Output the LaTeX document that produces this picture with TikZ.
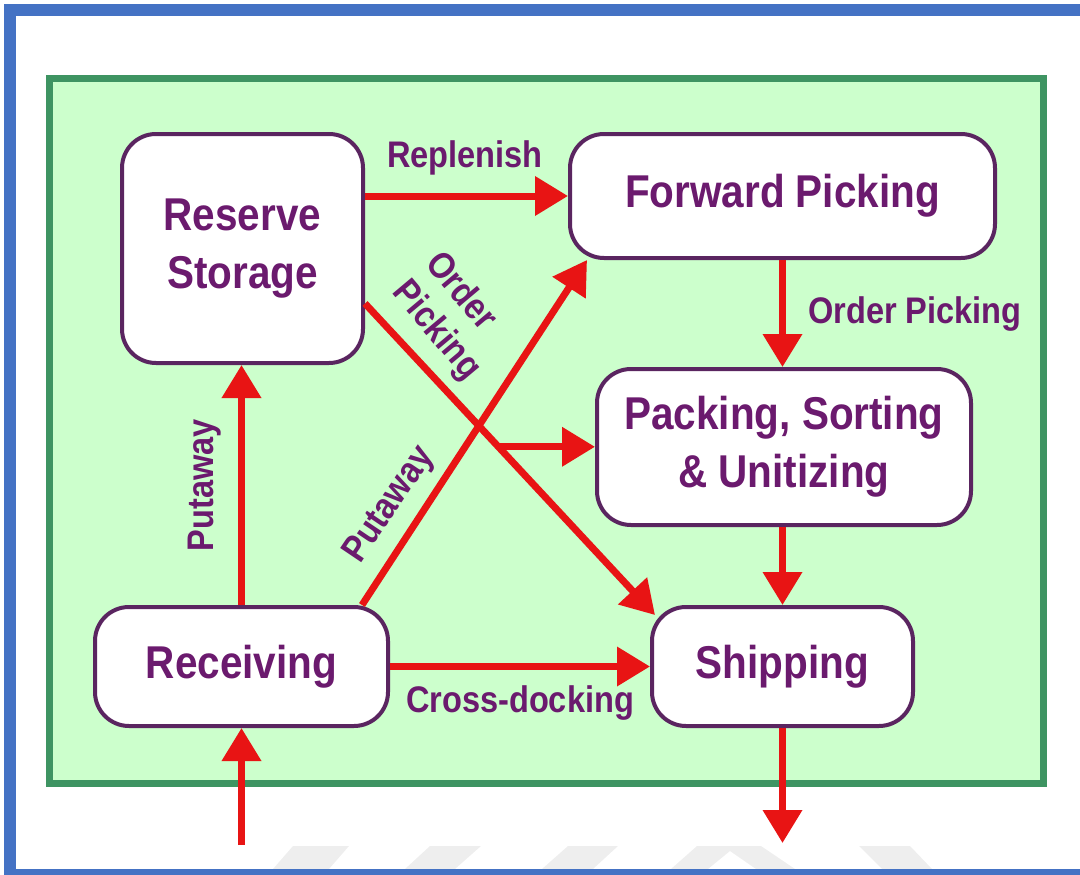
\documentclass[tikz,border=0pt]{standalone}
\usepackage{fontspec}
\newfontfamily\nodefont[FakeStretch=0.88]{Liberation Sans Bold}
\newfontfamily\labfont[FakeStretch=0.88]{Liberation Sans Bold}
\usetikzlibrary{arrows.meta,calc}
\definecolor{frameblue}{HTML}{4472C4}
\definecolor{gfill}{HTML}{CCFFCC}
\definecolor{gborder}{HTML}{3E9462}
\definecolor{boxline}{HTML}{5A2560}
\definecolor{txt}{HTML}{6B1A6E}
\definecolor{flowred}{HTML}{E81414}
\definecolor{wm}{HTML}{EEEEEE}
\tikzset{
  box/.style={draw=boxline, line width=4pt, fill=white, rounded corners=34pt,
    inner sep=0pt, align=center, text=txt, font=\nodefont\fontsize{46}{58}\selectfont},
  lab/.style={text=txt, font=\labfont\fontsize{37}{43}\selectfont, inner sep=0pt},
  flow/.style={draw=flowred, line width=7pt, -{Triangle[length=33pt,width=38pt]}},
}
\begin{document}
\begin{tikzpicture}[x=1pt,y=-1pt]
\useasboundingbox (0,0) rectangle (1080,875);
% watermark
\fill[wm] (273,869) -- (293,846) -- (349,846) -- (329,869) -- cycle;
\fill[wm] (405,869) -- (430,846) -- (481,846) -- (455,869) -- cycle;
\fill[wm] (542,869) -- (568,846) -- (618,846) -- (593,869) -- cycle;
\fill[wm] (671,869) -- (697,846) -- (761,846) -- (795,869) -- (756,869) -- (730,851) -- (708,869) -- cycle;
\fill[wm] (882,869) -- (859,846) -- (910,846) -- (932,869) -- cycle;
% frame
\fill[frameblue] (4,4) rectangle (1080,16);
\fill[frameblue] (4,4) rectangle (16,875);
\fill[frameblue] (4,869) rectangle (1080,875);
% green panel
\draw[draw=gborder, fill=gfill, line width=7pt] (49,79) rectangle (1043,783);
% nodes
\node[box, minimum width=241pt, minimum height=229pt] (rs) at (242.5,248.5) {Reserve\\Storage};
\node[box, minimum width=425pt, minimum height=124pt] (fp) at (782.5,196) {\raisebox{-4pt}{Forward Picking}};
\node[box, minimum width=374pt, minimum height=156pt] (pk) at (784,447) {Packing, Sorting\\\& Unitizing};
\node[box, minimum width=293pt, minimum height=119pt] (rc) at (241.5,666.5) {Receiving};
\node[box, minimum width=261pt, minimum height=119pt] (sh) at (782.5,666.5) {Shipping};
% free ends
\coordinate (in) at (241.5,845);
\coordinate (out) at (782.5,843);
\coordinate (rcne) at ($(rc.north east)+(-28,0)$);
\coordinate (fpsw) at ($(fp.south west)+(19,0)$);
\coordinate (rse) at ($(rs.east)+(0,55)$);
\coordinate (shnw) at ($(sh.north west)+(5,10)$);
\path (rse) -- (shnw) coordinate[pos=0.46] (br);
% connectors
\draw[flow] (rs.east |- fp.west) -- (fp.west);
\draw[flow] (fp.south) -- (fp.south |- pk.north);
\draw[flow] (pk.south -| sh.north) -- (sh.north);
\draw[flow] (sh.south) -- (out);
\draw[flow] (in) -- (rc.south);
\draw[flow] (rc.north) -- (rc.north |- rs.south);
\draw[flow] (rcne) -- (fpsw);
\draw[flow] (rse) -- (shnw);
\draw[flow] (br) -- (br -| pk.west);
\draw[flow] (rc.east) -- (sh.west);
% labels
\node[lab, anchor=base] (l1) at (465,167) {Replenish};
\node[lab, anchor=base west] (l2) at (808,323) {Order Picking};
\node[lab, anchor=base] (l3) at (520,712) {Cross-docking};
\node[lab, rotate=90] (l4) at (205,485) {Putaway};
\node[lab, rotate=56] (l5) at (390,505) {Putaway};
\node[lab, rotate=-50] (l6a) at (463,290) {Order};
\node[lab, rotate=-50] (l6b) at (436,331) {Picking};
\end{tikzpicture}
\end{document}
